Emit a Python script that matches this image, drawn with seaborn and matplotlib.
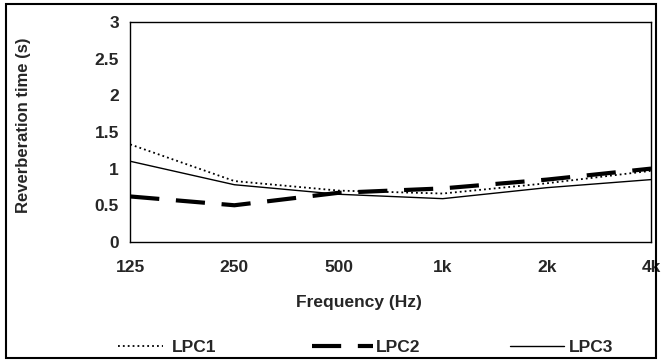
import matplotlib
matplotlib.use("Agg")
import matplotlib.pyplot as plt
import seaborn as sns
import pandas as pd

# Reverberation time per octave band
freq_labels = ["125", "250", "500", "1k", "2k", "4k"]
lpc1 = [1.33, 0.83, 0.70, 0.66, 0.80, 0.97]
lpc2 = [0.62, 0.50, 0.67, 0.73, 0.85, 1.00]
lpc3 = [1.10, 0.78, 0.65, 0.59, 0.74, 0.85]

sns.set_style("white")
plt.rcParams['font.family'] = ['Liberation Sans', 'DejaVu Sans']

df = pd.DataFrame({
    "pos": list(range(len(freq_labels))) * 3,
    "rt": lpc1 + lpc2 + lpc3,
    "series": ["LPC1"] * 6 + ["LPC2"] * 6 + ["LPC3"] * 6,
})

fig = plt.figure(figsize=(6.61, 3.6), dpi=100)
ax = fig.add_axes([0.197, 0.328, 0.788, 0.611])

styles = {
    "LPC1": dict(lw=1.3, ls=(0, (1, 1.7))),
    "LPC2": dict(lw=3.0, ls=(0, (7, 4))),
    "LPC3": dict(lw=1.0, ls="-"),
}
lines = {}
for name, kw in styles.items():
    sub = df[df["series"] == name]
    sns.lineplot(data=sub, x="pos", y="rt", ax=ax, color="black", legend=False, **kw)
    lines[name] = ax.get_lines()[-1]

ax.set_xlim(0, 5)
ax.set_ylim(0, 3)
ax.set_xticks(range(len(freq_labels)))
ax.set_xticklabels(freq_labels)
ax.set_yticks([0, 0.5, 1, 1.5, 2, 2.5, 3])
ax.set_yticklabels(["0", "0.5", "1", "1.5", "2", "2.5", "3"])
ax.tick_params(axis="both", direction="out", length=4, width=1, color="black",
               labelsize=12.5, pad=4)
ax.tick_params(axis="x", pad=9)
for lab in ax.get_xticklabels() + ax.get_yticklabels():
    lab.set_fontweight("bold")
for sp in ax.spines.values():
    sp.set_color("black")
    sp.set_linewidth(1.0)

ax.set_xlabel("Frequency (Hz)", fontsize=12.5, fontweight="bold")
ax.xaxis.set_label_coords(0.44, -0.24)
ax.set_ylabel("Reverberation time (s)", fontsize=12, fontweight="bold")
ax.yaxis.set_label_coords(-0.19, 0.53)

# legend entries placed separately, as in the source layout
leg_pos = {"LPC1": (118, 2.6, 0.5), "LPC2": (312, 3.5, 0.2), "LPC3": (510, 3.1, 0.3)}
for name, (x0, hl, tp) in leg_pos.items():
    leg = fig.legend([lines[name]], [name], loc="center left",
                     bbox_to_anchor=(x0 / 661, 1 - 347 / 360), frameon=False,
                     prop={"weight": "bold", "size": 12.5}, handlelength=hl,
                     handletextpad=tp, borderpad=0, borderaxespad=0)

# outer chart frame
fig.patches.append(plt.Rectangle((0.009, 0.005), 0.984, 0.983, transform=fig.transFigure,
                                 fill=False, edgecolor="black", lw=1.5))

fig.savefig("out.png", dpi=100)
